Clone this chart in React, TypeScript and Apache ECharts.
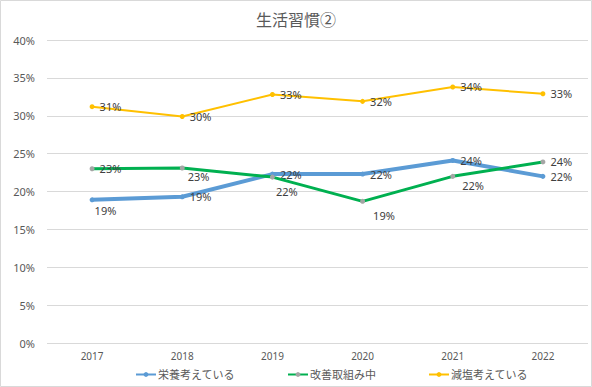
import React, { useEffect, useRef } from "react";
import * as echarts from "echarts";

const years = ["2017", "2018", "2019", "2020", "2021", "2022"];
const eiyou = [18.9, 19.3, 22.3, 22.3, 24.1, 22.0];
const kaizen = [23.0, 23.1, 21.9, 18.7, 22.0, 23.9];
const gensen = [31.2, 29.9, 32.8, 31.9, 33.8, 32.9];
const seriesNames = ["栄養考えている", "改善取組み中", "減塩考えている"];
const title = "生活習慣②";

const FONT = "'Noto Sans', 'Noto Sans CJK JP', sans-serif";

// label nudges per series/index (dx, dy)
const labelNudge: Record<string, Record<number, [number, number]>> = {
  eiyou: { 0: [-5, 11] },
  kaizen: { 1: [-2, 8], 2: [-4, 14], 3: [3, 14], 4: [2, 9] },
  gensen: {},
};

function mkData(vals: number[], key: string) {
  return vals.map((v, i) => {
    const n = labelNudge[key][i];
    return n ? { value: v, label: { offset: n } } : { value: v };
  });
}

export default function App() {
  const ref = useRef<HTMLDivElement>(null);
  useEffect(() => {
    if (!ref.current) return;
    const chart = echarts.init(ref.current, null, { renderer: "svg" });
    const labelCfg = {
      show: true,
      position: "right",
      distance: 5,
      color: "#404040",
      fontSize: 11,
      fontFamily: FONT,
      formatter: (p: any) => Math.round(p.value) + "%",
    };
    chart.setOption({
      animation: false,
      backgroundColor: "#ffffff",
      textStyle: { fontFamily: FONT },
      title: {
        text: title,
        left: "center",
        top: 7,
        textStyle: { fontSize: 16, fontWeight: "normal", color: "#595959", fontFamily: FONT },
      },
      graphic: [
        {
          type: "rect",
          shape: { x: 0.5, y: 0.5, width: 591, height: 386 },
          style: { fill: "none", stroke: "#d9d9d9", lineWidth: 1 },
          silent: true,
        },
      ],
      legend: {
        bottom: 2,
        left: 130,
        itemGap: 52,
        itemWidth: 20,
        itemHeight: 6,
        textStyle: { fontSize: 11, color: "#595959", fontFamily: FONT, padding: [0, 0, 0, -3] },
        data: seriesNames,
      },
      grid: { left: 47, right: 4, top: 40, bottom: 44, containLabel: false },
      xAxis: {
        type: "category",
        data: years,
        boundaryGap: true,
        axisLine: { show: false },
        axisTick: { show: false },
        axisLabel: { color: "#595959", fontSize: 10, margin: 8, fontFamily: FONT },
      },
      yAxis: {
        type: "value",
        min: 0,
        max: 40,
        interval: 5,
        axisLine: { show: false },
        axisTick: { show: false },
        axisLabel: { formatter: "{value}%", color: "#595959", fontSize: 11, margin: 12, fontFamily: FONT },
        splitLine: { lineStyle: { color: "#d9d9d9", width: 1 } },
      },
      series: [
        {
          name: seriesNames[0],
          type: "line",
          data: mkData(eiyou, "eiyou"),
          symbol: "circle",
          symbolSize: 5,
          color: "#5b9bd5",
          lineStyle: { width: 4, color: "#5b9bd5" },
          itemStyle: { color: "#5b9bd5" },
          label: labelCfg,
          z: 3,
        },
        {
          name: seriesNames[1],
          type: "line",
          data: mkData(kaizen, "kaizen"),
          symbol: "circle",
          symbolSize: 5,
          color: "#00b050",
          lineStyle: { width: 3, color: "#00b050" },
          itemStyle: { color: "#a5a5a5" },
          label: labelCfg,
          z: 4,
        },
        {
          name: seriesNames[2],
          type: "line",
          data: mkData(gensen, "gensen"),
          symbol: "circle",
          symbolSize: 5,
          color: "#ffc000",
          lineStyle: { width: 2, color: "#ffc000" },
          itemStyle: { color: "#ffc000" },
          label: labelCfg,
          z: 5,
        },
      ],
    });
    return () => chart.dispose();
  }, []);
  return (
    <div
      ref={ref}
      style={{ position: "absolute", left: 0, top: 0, width: 592, height: 387 }}
    />
  );
}
